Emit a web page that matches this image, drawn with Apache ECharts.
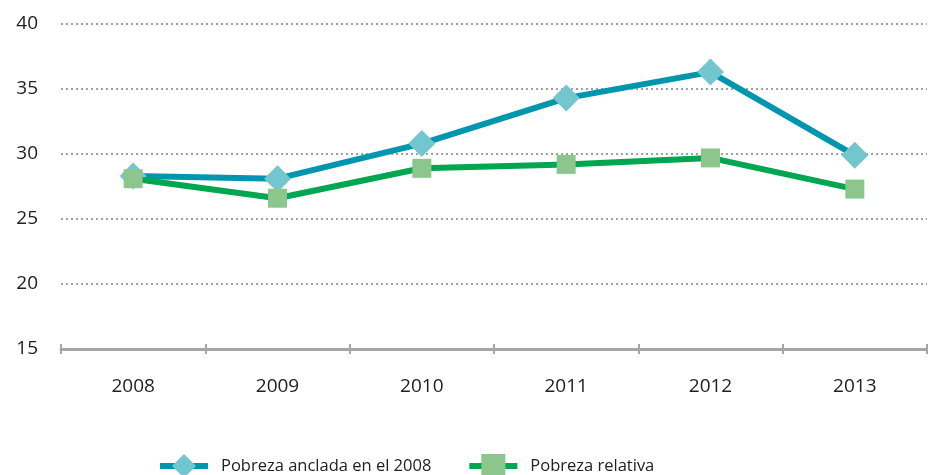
<!DOCTYPE html>
<html>
<head>
<meta charset="utf-8">
<script src="https://cdn.jsdelivr.net/npm/echarts@6/dist/echarts.min.js"></script>
<style>
  html, body { margin: 0; padding: 0; background: #fff; }
  #chart { width: 928px; height: 475px; }
</style>
</head>
<body>
<div id="chart"></div>
<script>
// datos
const years = ['2008', '2009', '2010', '2011', '2012', '2013'];
const pobrezaAnclada = [28.3, 28.1, 30.8, 34.3, 36.3, 29.9];
const pobrezaRelativa = [28.1, 26.6, 28.9, 29.2, 29.7, 27.3];

const font = '"Open Sans", "Noto Sans", sans-serif';
const tickStyle = { color: '#a6a6a6', width: 2 };

let myChart = echarts.init(document.getElementById('chart'));
let option = {
    animation: false,
    grid: { left: 61, right: 1, top: 24, bottom: 126 },
    legend: {
        left: 152,
        top: 449,
        itemWidth: 48,
        itemHeight: 30,
        itemGap: 35,
        lineStyle: { width: 6 },
        textStyle: { fontFamily: font, fontSize: 16.5, color: '#222', padding: [0, 0, 0, 8] },
        data: ['Pobreza anclada en el 2008', 'Pobreza relativa']
    },
    xAxis: [
        {
            type: 'category',
            data: years,
            boundaryGap: true,
            axisLine: { lineStyle: { color: '#a6a6a6', width: 3 } },
            axisTick: { show: true, interval: 0, length: 5, lineStyle: tickStyle },
            axisLabel: { margin: 28, fontFamily: font, fontSize: 19, color: '#222' }
        },
        {
            // ticks hacia dentro para que crucen el eje
            type: 'category',
            data: years,
            position: 'bottom',
            boundaryGap: true,
            axisLine: { show: false },
            axisTick: { show: true, interval: 0, inside: true, length: 5, lineStyle: tickStyle },
            axisLabel: { show: false }
        }
    ],
    yAxis: {
        type: 'value',
        min: 15,
        max: 40,
        interval: 5,
        axisLine: { show: false },
        axisTick: { show: false },
        axisLabel: { margin: 23, fontFamily: font, fontSize: 19, color: '#222' },
        splitLine: { lineStyle: { color: '#a0a0a0', width: 2, type: [2, 3] } }
    },
    series: [
        {
            name: 'Pobreza anclada en el 2008',
            type: 'line',
            data: pobrezaAnclada,
            symbol: 'diamond',
            symbolSize: 27,
            lineStyle: { color: '#0096ad', width: 6 },
            itemStyle: { color: '#72c6cd' },
            z: 2
        },
        {
            name: 'Pobreza relativa',
            type: 'line',
            data: pobrezaRelativa,
            symbol: 'rect',
            symbolSize: 19,
            lineStyle: { color: '#00a650', width: 6 },
            itemStyle: { color: '#8dc68c' },
            z: 3
        }
    ]
};
myChart.setOption(option);
</script>
</body>
</html>
